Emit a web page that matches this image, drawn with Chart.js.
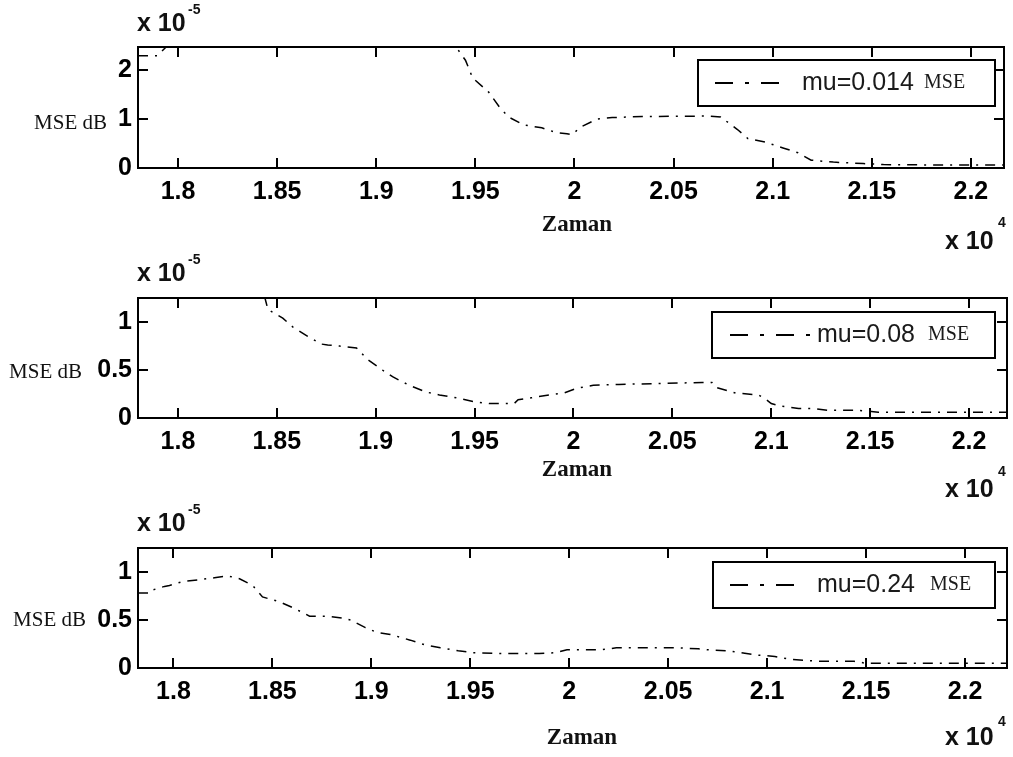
<!DOCTYPE html>
<html>
<head>
<meta charset="utf-8">
<script src="https://cdn.jsdelivr.net/npm/chart.js@4"></script>
<style>
  body { margin: 0; background: #fff; }
  .panel { position: absolute; left: 0; width: 1013px; }
</style>
</head>
<body>
<div class="panel" style="top:0;height:250px"><canvas id="mse1"></canvas></div>
<div class="panel" style="top:250px;height:250px"><canvas id="mse2"></canvas></div>
<div class="panel" style="top:500px;height:257px"><canvas id="mse3"></canvas></div>

<script>
// time axis in samples (shown as x 10^4), MSE in units of 10^-5

const xTicks = [18000, 18500, 19000, 19500, 20000, 20500, 21000, 21500, 22000];
const xTickLabels = ['1.8', '1.85', '1.9', '1.95', '2', '2.05', '2.1', '2.15', '2.2'];

const yTicksWide = [0, 1, 2];
const yLabelsWide = ['0', '1', '2'];
const yTicksNarrow = [0, 0.5, 1];
const yLabelsNarrow = ['0', '0.5', '1'];

// mu = 0.014
const time014 = [17798, 17894, 17940, 18150, 18900, 19403, 19450, 19486, 19567, 19622,
    19668, 19744, 19835, 19911, 19962, 19987, 20033, 20114, 20190, 20342,
    20672, 20738, 20824, 20875, 20961, 21052, 21128, 21194, 21306, 21457,
    21559, 21863, 22167];
const mse014 = [2.29, 2.29, 2.47, 2.75, 2.8, 2.47, 2.2, 1.84, 1.55, 1.24,
    1.04, 0.88, 0.82, 0.72, 0.70, 0.68, 0.84, 1.00, 1.03, 1.05,
    1.06, 1.04, 0.78, 0.60, 0.53, 0.41, 0.31, 0.16, 0.12, 0.09,
    0.07, 0.06, 0.06];

// mu = 0.08
const time008 = [17798, 18300, 18440, 18455, 18530, 18580, 18656, 18726, 18757, 18817,
    18903, 18959, 19034, 19085, 19170, 19256, 19322, 19407, 19498, 19574,
    19700, 19720, 19786, 19877, 19952, 20018, 20100, 20230, 20450, 20650,
    20700, 20719, 20820, 20936, 20976, 21000, 21047, 21138, 21213, 21289,
    21440, 21541, 22192];
const mse008 = [1.6, 1.38, 1.25, 1.13, 1.04, 0.95, 0.85, 0.77, 0.76, 0.75,
    0.73, 0.61, 0.50, 0.43, 0.34, 0.27, 0.24, 0.21, 0.17, 0.15,
    0.15, 0.19, 0.21, 0.24, 0.26, 0.31, 0.34, 0.35, 0.36, 0.37,
    0.37, 0.32, 0.26, 0.24, 0.19, 0.15, 0.125, 0.10, 0.10, 0.08,
    0.08, 0.06, 0.06];

// mu = 0.24
const time024 = [17821, 17879, 17890, 17955, 17980, 18045, 18131, 18207, 18273, 18334,
    18400, 18450, 18536, 18612, 18688, 18780, 18855, 18895, 18970, 19030,
    19096, 19197, 19273, 19349, 19439, 19515, 19677, 19848, 19930, 19989,
    20161, 20238, 20389, 20541, 20652, 20700, 20798, 20864, 20950, 21039,
    21116, 21190, 21268, 21440, 21496, 22212];
const mse024 = [0.78, 0.78, 0.81, 0.85, 0.86, 0.90, 0.92, 0.94, 0.96, 0.93,
    0.86, 0.74, 0.69, 0.62, 0.54, 0.54, 0.52, 0.50, 0.42, 0.37,
    0.35, 0.29, 0.24, 0.21, 0.18, 0.16, 0.15, 0.15, 0.16, 0.19,
    0.19, 0.21, 0.21, 0.21, 0.20, 0.19, 0.18, 0.16, 0.135, 0.12,
    0.09, 0.08, 0.07, 0.07, 0.05, 0.05];

const panels = [
    {
        id: 'mse1', label: 'mu=0.014', time: time014, mse: mse014,
        xMin: 17798, xMax: 22167, yMax: 2.47, yTicks: yTicksWide, yLabels: yLabelsWide,
        top: 47, right: 9, axisHeight: 82,
        yName: [107, 123], zaman: [577, 225], xExp: [945, 242, 223],
        legend: { left: 698, top: 60, sample: [715, 782], text: 802, suffix: 924 }
    },
    {
        id: 'mse2', label: 'mu=0.08', time: time008, mse: mse008,
        xMin: 17798, xMax: 22192, yMax: 1.25, yTicks: yTicksNarrow, yLabels: yLabelsNarrow,
        top: 48, right: 6, axisHeight: 82,
        yName: [82, 122], zaman: [577, 220], xExp: [945, 240, 222],
        legend: { left: 712, top: 62, sample: [730, 810], text: 817, suffix: 928 }
    },
    {
        id: 'mse3', label: 'mu=0.24', time: time024, mse: mse024,
        xMin: 17821, xMax: 22212, yMax: 1.25, yTicks: yTicksNarrow, yLabels: yLabelsNarrow,
        top: 48, right: 6, axisHeight: 89,
        yName: [86, 120], zaman: [582, 238], xExp: [945, 238, 222],
        legend: { left: 713, top: 62, sample: [730, 800], text: 817, suffix: 930 }
    }
];

const sans = "'Liberation Sans', Arial, sans-serif";
const serif = "'Liberation Serif', 'Times New Roman', serif";

// box with inward tick marks on all four sides
const frame = {
    id: 'frame',
    afterDatasetsDraw(chart) {
        const {ctx, chartArea: a, scales: {x, y}} = chart;
        ctx.save();
        ctx.strokeStyle = '#000';
        ctx.lineWidth = 2;
        ctx.beginPath();
        x.ticks.forEach(t => {
            const px = Math.round(x.getPixelForValue(t.value));
            ctx.moveTo(px, a.bottom); ctx.lineTo(px, a.bottom - 10);
            ctx.moveTo(px, a.top); ctx.lineTo(px, a.top + 10);
        });
        y.ticks.forEach(t => {
            const py = Math.round(y.getPixelForValue(t.value));
            ctx.moveTo(a.left, py); ctx.lineTo(a.left + 10, py);
            ctx.moveTo(a.right, py); ctx.lineTo(a.right - 10, py);
        });
        ctx.stroke();
        ctx.strokeRect(a.left, a.top, a.right - a.left, a.bottom - a.top);
        ctx.restore();
    }
};

// axis names, multipliers and the boxed legend
const notes = {
    id: 'notes',
    afterDraw(chart, args, opts) {
        const p = opts.panel;
        const ctx = chart.ctx;
        const ds = chart.data.datasets[0];
        ctx.save();
        ctx.fillStyle = '#111';
        ctx.textBaseline = 'middle';

        ctx.textAlign = 'left';
        ctx.font = 'bold 25px ' + sans;
        ctx.fillText('x 10', 137, 24);
        ctx.font = 'bold 14px ' + sans;
        ctx.fillText('-5', 188, 10);

        ctx.font = 'bold 25px ' + sans;
        ctx.fillText('x 10', p.xExp[0], p.xExp[1]);
        ctx.font = 'bold 14px ' + sans;
        ctx.fillText('4', p.xExp[0] + 53, p.xExp[2]);

        ctx.textAlign = 'right';
        ctx.font = '21px ' + serif;
        ctx.fillText('MSE dB', p.yName[0], p.yName[1]);

        ctx.textAlign = 'center';
        ctx.font = 'bold 23px ' + serif;
        ctx.fillText('Zaman', p.zaman[0], p.zaman[1]);

        const lg = p.legend;
        const right = 995, h = 46, cy = lg.top + h / 2;
        ctx.fillStyle = '#fff';
        ctx.fillRect(lg.left, lg.top, right - lg.left, h);
        ctx.strokeStyle = '#000';
        ctx.lineWidth = 2;
        ctx.strokeRect(lg.left, lg.top, right - lg.left, h);

        ctx.lineWidth = 2;
        ctx.setLineDash([18, 12, 4, 12]);
        ctx.beginPath();
        ctx.moveTo(lg.sample[0], cy);
        ctx.lineTo(lg.sample[1], cy);
        ctx.stroke();
        ctx.setLineDash([]);

        ctx.fillStyle = '#1a1a1a';
        ctx.textAlign = 'left';
        ctx.font = '25px ' + sans;
        ctx.fillText(ds.label, lg.text, cy);
        ctx.font = '20px ' + serif;
        ctx.fillText('MSE', lg.suffix, cy);
        ctx.restore();
    }
};

panels.forEach(p => {
    new Chart(document.getElementById(p.id), {
        type: 'line',
        data: {
            datasets: [{
                label: p.label,
                data: p.time.map((t, i) => ({x: t, y: p.mse[i]})),
                borderColor: '#000',
                borderWidth: 1.5,
                borderDash: [10, 7, 2, 7],
                pointRadius: 0,
                tension: 0,
                fill: false
            }]
        },
        options: {
            responsive: true,
            maintainAspectRatio: false,
            animation: false,
            events: [],
            layout: {
                padding: {top: p.top, right: p.right, left: 0, bottom: 0}
            },
            scales: {
                x: {
                    type: 'linear',
                    min: p.xMin,
                    max: p.xMax,
                    grid: {display: false, drawTicks: false},
                    border: {display: false},
                    afterBuildTicks: s => { s.ticks = xTicks.map(v => ({value: v})); },
                    afterFit: s => { s.height = p.axisHeight; },
                    ticks: {
                        autoSkip: false,
                        maxRotation: 0,
                        padding: 9,
                        color: '#000',
                        font: {family: sans, size: 25, weight: 'bold'},
                        callback: (v, i) => xTickLabels[i]
                    }
                },
                y: {
                    type: 'linear',
                    min: 0,
                    max: p.yMax,
                    grid: {display: false, drawTicks: false},
                    border: {display: false},
                    afterBuildTicks: s => { s.ticks = p.yTicks.map(v => ({value: v})); },
                    afterFit: s => { s.width = 138; },
                    ticks: {
                        padding: 6,
                        color: '#000',
                        font: {family: sans, size: 25, weight: 'bold'},
                        callback: (v, i) => p.yLabels[i]
                    }
                }
            },
            plugins: {
                legend: {display: false},
                tooltip: {enabled: false},
                notes: {panel: p}
            }
        },
        plugins: [frame, notes]
    });
});
</script>
</body>
</html>
